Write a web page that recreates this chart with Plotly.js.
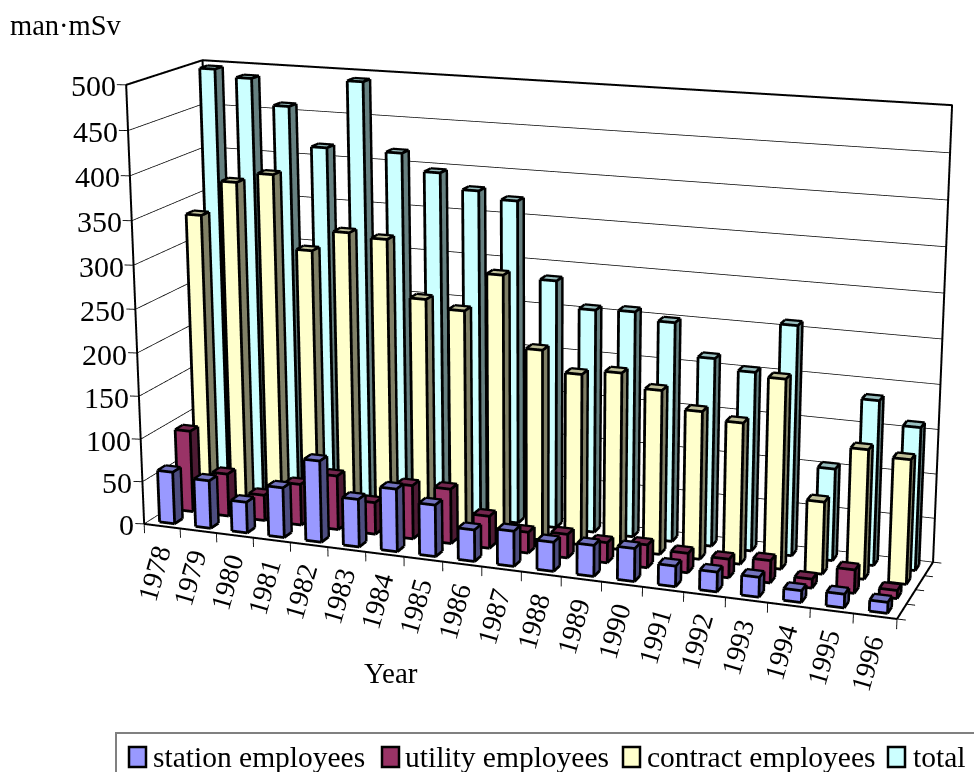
<!DOCTYPE html>
<html>
<head>
<meta charset="utf-8">
<script src="https://cdn.plot.ly/plotly-3.0.1.min.js"></script>
<style>
html,body{margin:0;padding:0;background:#fff;overflow:hidden}
#frame{position:relative;width:974px;height:772px;overflow:hidden}
#chart{position:absolute;left:-64px;top:-748px;width:1200px;height:2166px}
</style>
</head>
<body>
<div id="frame"><div id="chart"></div></div>
<script>
// Annual collective dose by workforce group, drawn as 3-D columns
const years = [1978,1979,1980,1981,1982,1983,1984,1985,1986,1987,1988,1989,1990,1991,1992,1993,1994,1995,1996];
const station  = [61,56,36,58,94,55,72,59,36,40,33,35,37,23,22,22,13,15,12];
const utility  = [96,50,30,48,63,37,62,63,37,24,27,23,26,22,21,25,10,26,9];
const contract = [337,378,390,307,331,327,263,254,298,218,195,201,186,167,159,212,81,144,138];
const total    = [496,488,459,415,492,415,396,379,371,285,256,258,250,214,203,259,104,185,160];
const seriesNames = ['station employees','utility employees','contract employees','total'];
const seriesValues = [station,utility,contract,total];
const frontColors = ['#9999FF','#993366','#FFFFCC','#CCFFFF'];
const sideColors  = ['#4D4D80','#4D1A33','#808066','#668080'];
const topColors   = ['#7373BF','#73264D','#BFBF99','#99BFBF'];
const doseTicks = [0,50,100,150,200,250,300,350,400,450,500];

// Proportions of the plot box and the view that shows it
const boxW = 1, boxD = 0.2087, boxH = 0.58;
const nCat = years.length, nRow = seriesValues.length, zMax = 500;
const pad = {x:1, y:0.5, z:50};
const barSize = 0.42;
const bias = 0.004;
const biasData = [0.33*bias*nCat/boxW, -0.91*bias*nRow/boxD, 0.26*bias*zMax/boxH];

const serif = 'Liberation Serif, Times New Roman, serif';
const chartW = 1200, chartH = 2166, offX = -64, offY = -748;
const px = v => (v-offX)/chartW;
const py = v => 1-(v-offY)/chartH;

const traces = [];
seriesValues.forEach((vals,r)=>{
  const X=[],Y=[],Z=[],I=[],J=[],K=[],FC=[];
  const ex=[],ey=[],ez=[];
  const edge=(a,b)=>{
    ex.push(a[0]+biasData[0],b[0]+biasData[0],null);
    ey.push(a[1]+biasData[1],b[1]+biasData[1],null);
    ez.push(a[2]+biasData[2],b[2]+biasData[2],null);
  };
  vals.forEach((v,c)=>{
    const x0=c+0.5-barSize/2,x1=c+0.5+barSize/2,y0=r+0.5-barSize/2,y1=r+0.5+barSize/2;
    const n=X.length;
    [[x0,y0,0],[x1,y0,0],[x1,y1,0],[x0,y1,0],[x0,y0,v],[x1,y0,v],[x1,y1,v],[x0,y1,v]].forEach(p=>{X.push(p[0]);Y.push(p[1]);Z.push(p[2]);});
    const quad=(a,b,cc,d,col)=>{I.push(n+a,n+a);J.push(n+b,n+cc);K.push(n+cc,n+d);FC.push(col,col);};
    quad(0,1,5,4,frontColors[r]);
    quad(1,2,6,5,sideColors[r]);
    quad(4,5,6,7,topColors[r]);
    const p=(a)=>[X[n+a],Y[n+a],Z[n+a]];
    [[0,1],[1,5],[5,4],[4,0],[1,2],[2,6],[6,5],[6,7],[7,4]].forEach(e=>edge(p(e[0]),p(e[1])));
  });
  traces.push({type:'mesh3d',x:X,y:Y,z:Z,i:I,j:J,k:K,facecolor:FC,flatshading:true,
    lighting:{ambient:1,diffuse:0,specular:0,fresnel:0,roughness:1},showscale:false,hoverinfo:'skip',name:seriesNames[r]});
  traces.push({type:'scatter3d',mode:'lines',x:ex,y:ey,z:ez,line:{color:'#000',width:5.6},showlegend:false,hoverinfo:'skip',connectgaps:false});
});

// Walls and floor of the box
function lines3d(segs,width){
  const x=[],y=[],z=[];
  segs.forEach(s=>{s.forEach(p=>{x.push(p[0]);y.push(p[1]);z.push(p[2]);});x.push(null);y.push(null);z.push(null);});
  return {type:'scatter3d',mode:'lines',x,y,z,line:{color:'#000',width},showlegend:false,hoverinfo:'skip',connectgaps:false};
}
const gridSegs = doseTicks.slice(0,-1).map(v=>[[0,0,v],[0,nRow,v],[nCat,nRow,v]]);
traces.push(lines3d(gridSegs,1.5));
traces.push(lines3d([[[0,0,zMax],[0,nRow,zMax],[nCat,nRow,zMax],[nCat,nRow,0]],[[0,0,0],[0,0,zMax],[0,nRow,zMax],[0,nRow,0]],[[0,0,zMax],[0,nRow,zMax]],
  [[0,0,0],[nCat,0,0],[nCat,nRow,0]]],4));
const tickSegs=[];
doseTicks.forEach(v=>tickSegs.push([[0,0,v],[-0.22,-0.05,v]]));
for(let c=0;c<=nCat;c++)tickSegs.push([[c,0,0],[c,0,-11]]);
for(let r=0;r<=nRow;r++)tickSegs.push([[nCat,r,0],[nCat+0.2,r,0]]);
traces.push(lines3d(tickSegs,1.8));

const sceneAnn=[];
doseTicks.forEach(v=>sceneAnn.push({x:0,y:0,z:v,text:String(v),showarrow:false,xanchor:'right',yanchor:'middle',xshift:-8,yshift:-1,font:{family:serif,size:30,color:'#000'}}));
years.forEach((yr,c)=>sceneAnn.push({x:c+0.5,y:0,z:0,text:String(yr),showarrow:false,textangle:-74,xshift:-8,yshift:-47,font:{family:serif,size:28,color:'#000'}}));

const annotations=[
  {xref:'paper',yref:'paper',x:px(8),y:py(25),xanchor:'left',yanchor:'middle',text:'man·mSv',showarrow:false,font:{family:serif,size:28.5,color:'#000'}},
  {xref:'paper',yref:'paper',x:px(391),y:py(673),xanchor:'center',yanchor:'middle',text:'Year',showarrow:false,font:{family:serif,size:29,color:'#000'}}
];
const shapes=[
  {type:'rect',xref:'paper',yref:'paper',x0:px(116),x1:px(1000),y0:py(733),y1:py(800),line:{color:'#808080',width:2},fillcolor:'rgba(0,0,0,0)'}
];
const keyX=[129,382,623,888], labelX=[151,403,645,911];
seriesNames.forEach((n,r)=>{
  shapes.push({type:'rect',xref:'paper',yref:'paper',x0:px(keyX[r]),x1:px(keyX[r]+17),y0:py(747),y1:py(767),line:{color:'#000',width:2.5},fillcolor:frontColors[r]});
  annotations.push({xref:'paper',yref:'paper',x:px(labelX[r]),y:py(757),xanchor:'left',yanchor:'middle',text:n,showarrow:false,font:{family:serif,size:29.5,color:'#000'}});
});

const hidden={visible:false,showgrid:false,zeroline:false,showspikes:false,showticklabels:false,showline:false,showbackground:false,title:{text:''}};
const layout={
  width:chartW,height:chartH,margin:{l:0,r:0,t:0,b:0},paper_bgcolor:'#fff',showlegend:false,
  annotations,shapes,
  scene:{
    domain:{x:[0,1],y:[0,1]},bgcolor:'#fff',
    xaxis:Object.assign({},hidden,{range:[-pad.x,nCat+pad.x]}),
    yaxis:Object.assign({},hidden,{range:[-pad.y,nRow+pad.y]}),
    zaxis:Object.assign({},hidden,{range:[-pad.z,zMax+pad.z]}),
    aspectmode:'manual',
    aspectratio:{x:boxW*(nCat+2*pad.x)/nCat,y:boxD*(nRow+2*pad.y)/nRow,z:boxH*(zMax+2*pad.z)/zMax},
    camera:{projection:{type:'perspective'},up:{x:0,y:0,z:1},center:{x:0.008,y:-0.0006,z:-0.0136},eye:{x:1.0906,y:-2.9747,z:0.8344}},
    annotations:sceneAnn
  }
};
Plotly.newPlot('chart',traces,layout,{displayModeBar:false,scrollZoom:false});
</script>
</body>
</html>
